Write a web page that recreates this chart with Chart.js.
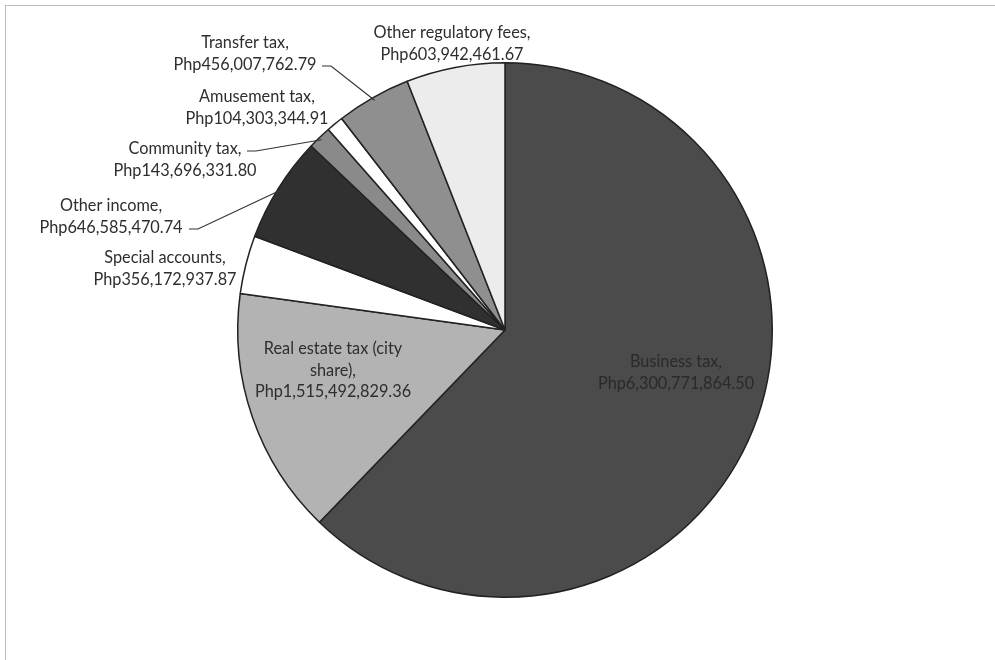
<!doctype html>
<html lang="en">
  <head>
    <meta charset="utf-8">
    <title>City income by source</title>
    <style>
      body { margin: 0; background: #fff; }
      #wrap { position: relative; width: 995px; height: 660px; }
      #frame { position: absolute; left: 5px; top: 5px; right: 0; bottom: 0;
               border-top: 1px solid #b9bcc4; border-left: 1px solid #b9bcc4; }
    </style>
  </head>
  <body>
    <div id="wrap">
      <div id="frame"></div>
      <canvas id="pie-chart"></canvas>
    </div>

    <script src="https://cdn.jsdelivr.net/npm/chart.js@4.4.0/dist/chart.umd.min.js"></script>
    <script>
    // data, clockwise from 12 o'clock
    const sources = ["Business tax", "Real estate tax (city share)", "Special accounts", "Other income",
                     "Community tax", "Amusement tax", "Transfer tax", "Other regulatory fees"];
    const amounts = [6300771864.50, 1515492829.36, 356172937.87, 646585470.74,
                     143696331.80, 104303344.91, 456007762.79, 603942461.67];
    const amountText = ["Php6,300,771,864.50", "Php1,515,492,829.36", "Php356,172,937.87", "Php646,585,470.74",
                        "Php143,696,331.80", "Php104,303,344.91", "Php456,007,762.79", "Php603,942,461.67"];
    const sliceColors = ["#4b4b4b", "#b3b3b3", "#ffffff", "#303030", "#8a8a8a", "#ffffff", "#8f8f8f", "#ececec"];

    // label layout: text lines, center x, first line y, leader line start (or null)
    const labelLayout = [
      { lines: ["Business tax,", amountText[0]], x: 676, y: 362, color: "#2a2a2a" },
      { lines: ["Real estate tax (city", "share),", amountText[1]], x: 333, y: 349 },
      { lines: ["Special accounts,", amountText[2]], x: 165, y: 258 },
      { lines: ["Other income,", amountText[3]], x: 111, y: 206, leader: [189, 229, 198] },
      { lines: ["Community tax,", amountText[4]], x: 185, y: 149, leader: [247, 151, 256] },
      { lines: ["Amusement tax,", amountText[5]], x: 257, y: 97 },
      { lines: ["Transfer tax,", amountText[6]], x: 245, y: 43, leader: [322, 66, 331] },
      { lines: ["Other regulatory fees,", amountText[7]], x: 452, y: 33 }
    ];

    const labelPlugin = {
      id: "sliceLabels",
      afterDatasetsDraw(chart) {
        const ctx = chart.ctx;
        const arcs = chart.getDatasetMeta(0).data;
        ctx.save();
        ctx.font = "16.3px Lato";
        ctx.textAlign = "center";
        ctx.textBaseline = "middle";
        labelLayout.forEach((lab, i) => {
          ctx.fillStyle = lab.color || "#2e2e2e";
          lab.lines.forEach((t, k) => ctx.fillText(t, lab.x, lab.y + k * 21.5));
          if (lab.leader) {
            const a = arcs[i].getProps(["x", "y", "startAngle", "endAngle", "outerRadius"], true);
            const mid = (a.startAngle + a.endAngle) / 2;
            const ex = a.x + Math.cos(mid) * (a.outerRadius - 3);
            const ey = a.y + Math.sin(mid) * (a.outerRadius - 3);
            ctx.strokeStyle = "#333";
            ctx.lineWidth = 1.2;
            ctx.beginPath();
            ctx.moveTo(lab.leader[0], lab.leader[1]);
            ctx.lineTo(lab.leader[2], lab.leader[1]);
            ctx.lineTo(ex, ey);
            ctx.stroke();
          }
        });
        ctx.restore();
      }
    };

    new Chart(document.getElementById("pie-chart"), {
      type: "pie",
      data: {
        labels: sources,
        datasets: [{
          data: amounts,
          backgroundColor: sliceColors,
          borderColor: "#222",
          borderWidth: 1.5
        }]
      },
      options: {
        responsive: true,
        maintainAspectRatio: false,
        animation: false,
        layout: { padding: { left: 237, right: 222, top: 62, bottom: 62 } },
        plugins: {
          legend: { display: false },
          tooltip: { enabled: false }
        }
      },
      plugins: [labelPlugin]
    });
    </script>
  </body>
</html>
